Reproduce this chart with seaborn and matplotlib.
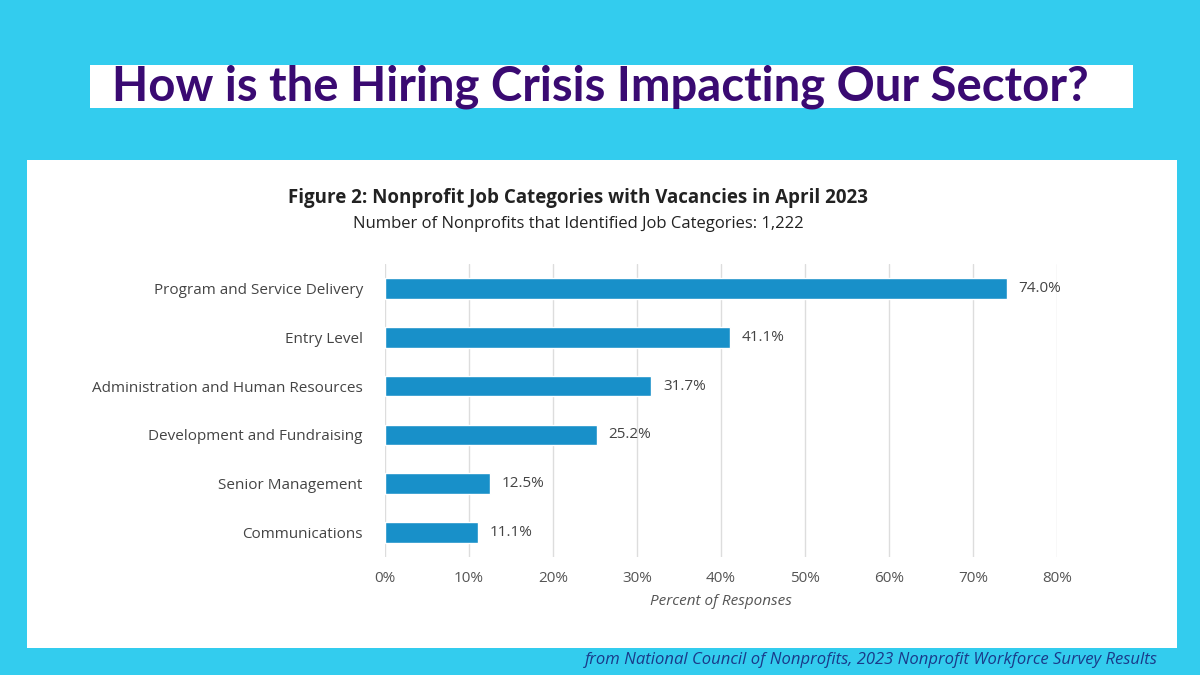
import matplotlib
matplotlib.use("Agg")
import matplotlib.pyplot as plt
import seaborn as sns
import pandas as pd
from matplotlib.patches import Rectangle

categories = ["Program and Service Delivery", "Entry Level", "Administration and Human Resources",
              "Development and Fundraising", "Senior Management", "Communications"]
values = [74.0, 41.1, 31.7, 25.2, 12.5, 11.1]
xticks = [0, 10, 20, 30, 40, 50, 60, 70, 80]

sns.set_theme(style="white")
plt.rcParams['font.family'] = ['Open Sans', 'DejaVu Sans']

fig = plt.figure(figsize=(12, 6.75), dpi=100)
fig.patch.set_facecolor("#33CCEE")
fig.patches.append(Rectangle((27/1200, 1-648/675), 1150/1200, 488/675, transform=fig.transFigure,
                             facecolor="white", edgecolor="none", zorder=-5))
fig.patches.append(Rectangle((90/1200, 1-108/675), 1043/1200, 43/675, transform=fig.transFigure,
                             facecolor="white", edgecolor="none", zorder=-5))
fig.text(0.5, 1-87/675, "How is the Hiring Crisis Impacting Our Sector?", ha="center", va="center",
         fontsize=34, fontweight="bold", color="#3A0A72", family=["Lato", "DejaVu Sans"])
fig.text(578/1200, 1-198/675, "Figure 2: Nonprofit Job Categories with Vacancies in April 2023",
         ha="center", va="center", fontsize=13.5, fontweight="bold", color="#222222")
fig.text(578/1200, 1-224/675, "Number of Nonprofits that Identified Job Categories: 1,222",
         ha="center", va="center", fontsize=12, color="#222222")
fig.text(1158/1200, 1-660/675, "from National Council of Nonprofits, 2023 Nonprofit Workforce Survey Results",
         ha="right", va="center", fontsize=12, style="italic", color="#1A3A8A")

ax = fig.add_axes([385/1200, 1-557/675, 672/1200, 293/675])
ax.set_zorder(5)
ax.set_facecolor("none")
df = pd.DataFrame({"cat": categories, "val": values})
sns.barplot(data=df, x="val", y="cat", color="#1890C9", saturation=1, width=0.42, ax=ax)
for i, v in enumerate(values):
    ax.text(v + 1.4, i, f"{v:.1f}%", va="center", ha="left", fontsize=11, color="#444444")
ax.set_xlim(0, 80)
ax.set_xticks(xticks)
ax.set_xticklabels([f"{t}%" for t in xticks], fontsize=11, color="#555555")
ax.tick_params(axis="y", labelsize=11, labelcolor="#444444", length=0, pad=16)
ax.tick_params(axis="x", length=0, pad=10)
ax.xaxis.grid(True, color="#DDDDDD", linewidth=1)
ax.set_axisbelow(True)
for s in ax.spines.values():
    s.set_visible(False)
ax.set_ylabel("")
ax.set_xlabel("Percent of Responses", fontsize=11, style="italic", color="#555555", labelpad=6)
fig.savefig("out.png", dpi=100, facecolor=fig.get_facecolor())
